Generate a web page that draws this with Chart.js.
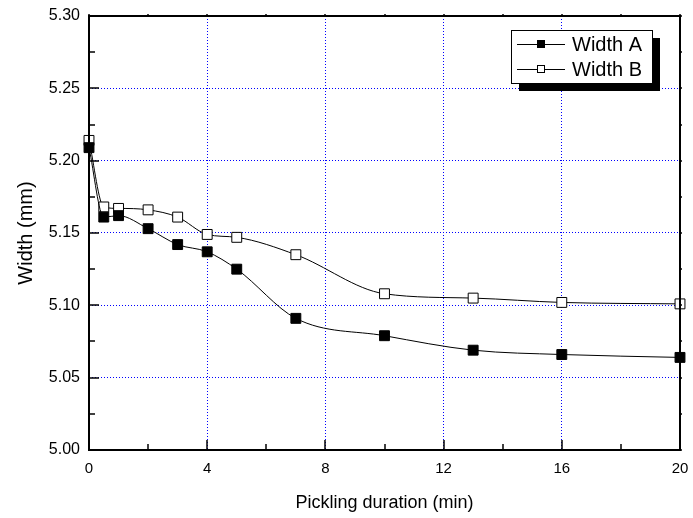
<!DOCTYPE html>
<html>
<head>
<meta charset="utf-8">
<script src="https://cdn.jsdelivr.net/npm/chart.js@4/dist/chart.umd.min.js"></script>
<style>
html,body{margin:0;padding:0;background:#fff;}
#wrap{width:693px;height:518px;position:relative;}
</style>
</head>
<body>
<div id="wrap"><canvas id="c" width="693" height="518"></canvas></div>
<script>
// ---- data ----
const durations = [0, 0.5, 1, 2, 3, 4, 5, 7, 10, 13, 16, 20];
const widthA = [5.209, 5.161, 5.162, 5.153, 5.142, 5.137, 5.125, 5.091, 5.079, 5.069, 5.066, 5.064];
const widthB = [5.214, 5.168, 5.167, 5.166, 5.161, 5.149, 5.147, 5.135, 5.108, 5.105, 5.102, 5.101];
const seriesNames = ['Width A', 'Width B'];
const xMajorTicks = [0, 4, 8, 12, 16, 20];
const xMinorTicks = [2, 6, 10, 14, 18];
const yMajorTicks = [5.00, 5.05, 5.10, 5.15, 5.20, 5.25, 5.30];
const yMinorTicks = [5.025, 5.075, 5.125, 5.175, 5.225, 5.275];

const FONT = 'Liberation Sans, Arial, sans-serif';

const framePlugin = {
  id: 'frame',
  afterDatasetsDraw(chart) {
    const ctx = chart.ctx, a = chart.chartArea;
    const xs = chart.scales.x, ys = chart.scales.y;
    ctx.save();
    ctx.strokeStyle = '#000';
    ctx.lineWidth = 1.5;
    const tick = (x1, y1, x2, y2) => { ctx.beginPath(); ctx.moveTo(x1, y1); ctx.lineTo(x2, y2); ctx.stroke(); };
    xMajorTicks.forEach(v => { const p = Math.round(xs.getPixelForValue(v)); tick(p, a.bottom, p, a.bottom - 10); tick(p, a.top, p, a.top - 2); });
    xMinorTicks.forEach(v => { const p = Math.round(xs.getPixelForValue(v)); tick(p, a.bottom, p, a.bottom - 6); tick(p, a.top, p, a.top - 2); });
    yMajorTicks.forEach(v => { const p = Math.round(ys.getPixelForValue(v)); tick(a.left, p, a.left + 10, p); tick(a.right, p, a.right + 2, p); });
    yMinorTicks.forEach(v => { const p = Math.round(ys.getPixelForValue(v)); tick(a.left, p, a.left + 6, p); tick(a.right, p, a.right + 2, p); });
    ctx.lineWidth = 2;
    ctx.strokeRect(a.left, a.top, a.right - a.left, a.bottom - a.top);
    ctx.restore();
  },
  afterDraw(chart) {
    const ctx = chart.ctx;
    const bx = 511, by = 30, bw = 141, bh = 53;
    ctx.save();
    ctx.fillStyle = '#000';
    ctx.fillRect(bx + 8, by + 8, bw, bh);
    ctx.fillStyle = '#fff';
    ctx.fillRect(bx, by, bw, bh);
    ctx.strokeStyle = '#000';
    ctx.lineWidth = 1;
    ctx.strokeRect(bx + 0.5, by + 0.5, bw, bh);
    chart.data.datasets.forEach((ds, i) => {
      const cy = by + 14 + i * 25;
      ctx.strokeStyle = '#000';
      ctx.lineWidth = 1;
      ctx.beginPath(); ctx.moveTo(bx + 6, cy + 0.5); ctx.lineTo(bx + 54, cy + 0.5); ctx.stroke();
      ctx.fillStyle = ds.pointBackgroundColor;
      ctx.fillRect(bx + 26, cy - 4, 8, 8);
      ctx.strokeRect(bx + 26.5, cy - 3.5, 7, 7);
      ctx.fillStyle = '#000';
      ctx.font = '20px ' + FONT;
      ctx.textBaseline = 'middle';
      ctx.textAlign = 'left';
      ctx.fillText(ds.label, bx + 61, cy + 1);
    });
    ctx.restore();
  }
};

const mk = (arr) => durations.map((d, i) => ({ x: d, y: arr[i] }));

new Chart(document.getElementById('c'), {
  type: 'scatter',
  data: {
    datasets: [
      { label: seriesNames[0], data: mk(widthA), showLine: true, borderColor: '#000', borderWidth: 1,
        cubicInterpolationMode: 'monotone', pointStyle: 'rect', pointRadius: 7, pointBackgroundColor: '#000',
        pointBorderColor: '#000', pointBorderWidth: 1 },
      { label: seriesNames[1], data: mk(widthB), showLine: true, borderColor: '#000', borderWidth: 1,
        cubicInterpolationMode: 'monotone', pointStyle: 'rect', pointRadius: 7, pointBackgroundColor: '#fff',
        pointBorderColor: '#000', pointBorderWidth: 1 }
    ]
  },
  options: {
    responsive: false,
    animation: false,
    clip: false,
    layout: { padding: { left: 0, right: 13, top: 16, bottom: 0 } },
    plugins: { legend: { display: false }, tooltip: { enabled: false } },
    scales: {
      x: {
        type: 'linear', min: 0, max: 20,
        afterBuildTicks: (s) => { s.ticks = xMajorTicks.map(v => ({ value: v })); },
        afterFit: (s) => { s.height = 68; s.paddingLeft = 0; s.paddingRight = 0; },
        ticks: { color: '#000', font: { family: FONT, size: 15 }, padding: 10, maxRotation: 0,
          callback: (v) => String(v) },
        grid: { color: '#0000ff', lineWidth: 1, drawTicks: false },
        border: { display: false, dash: [1, 2] },
        title: { display: true, text: 'Pickling duration (min)', color: '#000', font: { family: FONT, size: 18 }, padding: { top: 6 } }
      },
      y: {
        type: 'linear', min: 5.0, max: 5.3,
        afterBuildTicks: (s) => { s.ticks = yMajorTicks.map(v => ({ value: v })); },
        afterFit: (s) => { s.width = 89; s.paddingTop = 0; s.paddingBottom = 0; },
        ticks: { color: '#000', font: { family: FONT, size: 16 }, padding: 9,
          callback: (v) => Number(v).toFixed(2) },
        grid: { color: '#0000ff', lineWidth: 1, drawTicks: false },
        border: { display: false, dash: [1, 2] },
        title: { display: true, text: 'Width (mm)', color: '#000', font: { family: FONT, size: 20 }, padding: { top: 14, bottom: 0 } }
      }
    }
  },
  plugins: [framePlugin]
});
</script>
</body>
</html>
